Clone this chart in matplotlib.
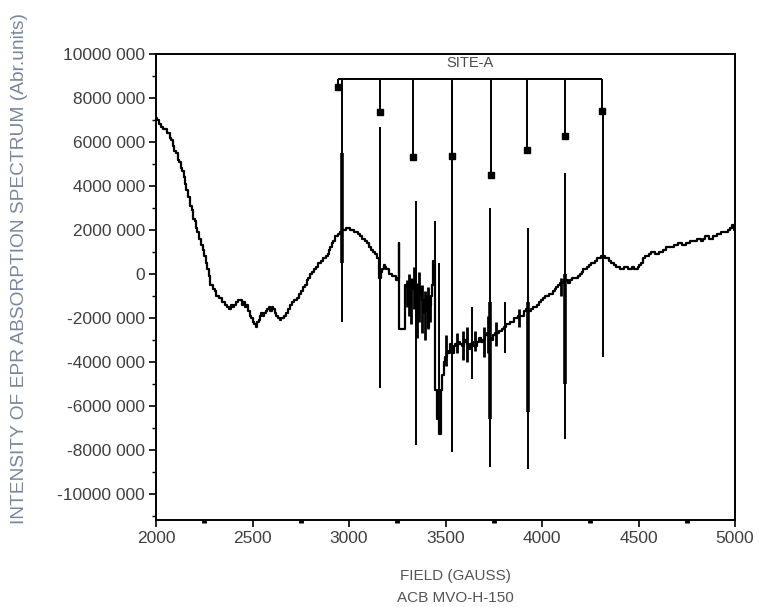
import matplotlib
matplotlib.use("Agg")
import matplotlib.pyplot as plt
from matplotlib.ticker import MultipleLocator

plt.rcParams['font.family'] = ['Liberation Sans', 'DejaVu Sans']

# ---- data (field in gauss, intensity in units of 1e6) ----
base_field = [2000, 2010, 2020, 2030, 2040, 2050, 2060, 2070, 2075, 2085, 2090, 2100, 2108, 2115,
              2125, 2130, 2140, 2145, 2155, 2160, 2170, 2180, 2188, 2195, 2205, 2210, 2220,
              2230, 2238, 2245, 2255, 2260, 2270, 2278, 2285, 2295, 2300, 2310, 2315, 2325,
              2330, 2340, 2345, 2355, 2365, 2375, 2385, 2393, 2400, 2410, 2420, 2430, 2440,
              2448, 2455, 2463, 2470, 2480, 2490, 2498, 2505, 2513, 2520, 2528, 2535, 2543,
              2550, 2558, 2565, 2573, 2580, 2588, 2595, 2603, 2610, 2618, 2625, 2635, 2645,
              2652, 2660, 2670, 2680, 2690, 2700, 2710, 2720, 2728, 2735, 2745, 2755, 2765,
              2775, 2785, 2795, 2805, 2815, 2825, 2835, 2848, 2860, 2872, 2885, 2893, 2900,
              2908, 2915, 2923, 2930, 2940, 2950, 2960, 2970, 2980, 2990, 3000, 3010, 3020,
              3030, 3040, 3050, 3060, 3070, 3080, 3090, 3100, 3110, 3120, 3130, 3140, 3150,
              3160, 3168, 3175, 3183, 3190, 3198, 3205, 3213, 3220, 3230, 3240, 3248, 3255,
              3258, 3262, 3268, 3290, 3293, 3300, 3308, 3315, 3323, 3330, 3338, 3345, 3353,
              3360, 3368, 3375, 3383, 3390, 3395, 3400, 3405, 3410, 3415, 3420, 3425, 3430,
              3440, 3448, 3460, 3470, 3480, 3488, 3495, 3503, 3510, 3518, 3525, 3533, 3540,
              3548, 3555, 3563, 3570, 3580, 3590, 3598, 3605, 3613, 3620, 3630, 3640, 3650,
              3660, 3670, 3680, 3690, 3700, 3710, 3720, 3730, 3740, 3750, 3760, 3770, 3780,
              3790, 3800, 3810, 3820, 3830, 3840, 3850, 3860, 3870, 3880, 3890, 3900, 3910,
              3920, 3930, 3940, 3950, 3960, 3970, 3980, 3990, 4000, 4010, 4020, 4030, 4040,
              4050, 4060, 4070, 4080, 4090, 4100, 4110, 4120, 4130, 4140, 4150, 4160, 4170,
              4180, 4190, 4200, 4210, 4220, 4230, 4240, 4250, 4260, 4270, 4280, 4290, 4300,
              4310, 4320, 4330, 4340, 4350, 4360, 4370, 4380, 4390, 4400, 4410, 4420, 4430,
              4440, 4450, 4460, 4470, 4480, 4490, 4500, 4510, 4520, 4530, 4540, 4550, 4560,
              4570, 4580, 4590, 4600, 4610, 4620, 4630, 4640, 4650, 4660, 4670, 4680, 4690,
              4700, 4710, 4720, 4730, 4740, 4750, 4760, 4770, 4780, 4790, 4800, 4810, 4820,
              4830, 4840, 4850, 4860, 4870, 4880, 4890, 4900, 4910, 4920, 4930, 4940, 4950,
              4960, 4970, 4980, 4990, 5000]
base_value = [7.1, 7.0, 6.8, 6.7, 6.6, 6.6, 6.4, 6.4, 6.2, 6.1, 5.8, 5.6, 5.5, 5.2,
              5.1, 4.8, 4.7, 4.4, 4.1, 3.8, 3.5, 3.1, 2.9, 2.5, 2.4, 2.1, 1.9,
              1.6, 1.3, 1.1, 0.8, 0.5, 0.2, -0.1, -0.5, -0.5, -0.7, -0.8, -1.0, -1.0,
              -1.1, -1.1, -1.3, -1.3, -1.4, -1.5, -1.6, -1.4, -1.5, -1.4, -1.3, -1.2, -1.2,
              -1.4, -1.3, -1.5, -1.4, -1.7, -1.9, -2.0, -2.2, -2.3, -2.4, -2.2, -2.1, -1.9,
              -1.8, -1.9, -1.8, -1.7, -1.6, -1.5, -1.7, -1.5, -1.6, -1.8, -1.9, -2.0, -2.1,
              -2.0, -2.0, -1.9, -1.8, -1.6, -1.4, -1.3, -1.2, -1.2, -1.1, -0.9, -0.8, -0.6,
              -0.5, -0.3, -0.2, 0.0, 0.1, 0.2, 0.3, 0.5, 0.6, 0.7, 0.8, 0.9, 1.1,
              1.2, 1.4, 1.5, 1.7, 1.7, 1.8, 1.9, 2.0, 2.0, 2.1, 2.1, 2.0, 2.0,
              1.9, 1.9, 1.8, 1.7, 1.6, 1.6, 1.5, 1.4, 1.2, 1.1, 1.0, 0.9, 0.7,
              -0.2, 0.1, 0.2, 0.4, 0.3, 0.2, 0.2, 0.0, 0.0, -0.1, -0.1, -0.3, -0.2,
              1.4, -2.5, -2.5, -2.5, -0.5, -0.6, -0.4, -0.9, -0.6, -0.3, -0.7, -0.8, -1.2,
              -1.3, -0.9, -0.6, -1.2, -1.8, -1.2, -1.0, -1.7, -2.4, -1.8, -1.4, -1.0, -0.5,
              0.6, -5.3, -6.6, -7.3, -5.3, -4.6, -4.0, -3.8, -3.5, -3.6, -3.2, -3.4, -3.6,
              -3.3, -3.2, -3.3, -3.1, -3.2, -3.3, -3.1, -3.0, -3.2, -3.4, -3.2, -3.1, -3.3,
              -3.3, -3.1, -2.9, -3.1, -3.0, -2.8, -2.7, -2.9, -3.0, -2.8, -2.7, -2.7, -2.6,
              -2.6, -2.5, -2.4, -2.3, -2.3, -2.2, -2.2, -2.0, -2.0, -1.9, -1.9, -1.9, -1.7,
              -1.6, -1.7, -1.7, -1.6, -1.5, -1.5, -1.4, -1.3, -1.2, -1.1, -1.0, -1.0, -0.9,
              -0.9, -0.8, -0.7, -0.6, -0.5, -0.4, -0.4, -0.3, -0.3, -0.4, -0.3, -0.2, -0.2,
              -0.2, -0.1, 0.0, 0.1, 0.2, 0.2, 0.3, 0.4, 0.5, 0.5, 0.6, 0.7, 0.7,
              0.8, 0.8, 0.7, 0.7, 0.6, 0.5, 0.5, 0.4, 0.3, 0.3, 0.2, 0.2, 0.3,
              0.3, 0.2, 0.2, 0.3, 0.2, 0.2, 0.3, 0.4, 0.5, 0.7, 0.8, 0.8, 0.9,
              1.0, 1.0, 0.9, 0.9, 1.0, 1.0, 1.1, 1.1, 1.2, 1.2, 1.2, 1.2, 1.3,
              1.3, 1.4, 1.4, 1.3, 1.3, 1.4, 1.4, 1.5, 1.5, 1.5, 1.5, 1.6, 1.6,
              1.5, 1.6, 1.7, 1.7, 1.6, 1.6, 1.7, 1.7, 1.8, 1.8, 1.9, 1.9, 1.9,
              1.9, 2.0, 2.1, 2.2, 2.0]

# sharp spectral lines: position, top, bottom
spike_field = [2962, 3162, 3347, 3445, 3466, 3535, 3637, 3732, 3808, 3930, 4119, 4316]
spike_top = [8.86, 6.7, 3.3, 2.4, 0.5, 8.6, -1.5, 3.0, -1.3, 2.1, 4.6, 7.4]
spike_bottom = [-2.2, -5.2, -7.8, -5.3, -6.9, -8.1, -4.8, -8.8, -3.6, -8.9, -7.5, -3.8]

# thicker central parts of the strongest lines
core_field = [2962, 3732, 3930, 4119]
core_top = [5.5, -1.3, -1.3, 0.0]
core_bottom = [0.5, -6.6, -6.3, -5.0]

# short unresolved lines filling the dense regions
blob_field = [3300, 3310, 3320, 3335, 3350, 3365, 3380, 3395, 3410, 3420,
              3505, 3560, 3590, 3610, 3655, 3700, 3720, 3760, 3880, 4100]
blob_top = [-0.3, 0.0, -0.2, 0.3, -0.4, 0.1, -0.5, -0.8, -0.6, -1.0,
            -2.8, -2.7, -2.6, -2.4, -2.6, -2.4, -1.9, -2.2, -1.6, -0.2]
blob_bottom = [-1.5, -1.9, -2.3, -1.6, -2.9, -2.2, -2.7, -3.0, -2.5, -2.2,
               -4.2, -3.6, -3.9, -4.0, -3.5, -3.8, -3.6, -3.3, -2.4, -1.0]

# SITE-A marker stick diagram
site_field = [2943, 3160, 3331, 3533, 3735, 3922, 4119, 4310]
site_value = [8.5, 7.36, 5.3, 5.36, 4.5, 5.64, 6.27, 7.4]
site_bar = 8.86
site_label = "SITE-A"

y_ticks = [10, 8, 6, 4, 2, 0, -2, -4, -6, -8, -10]
y_ticklabels = ["10000 000", "8000 000", "6000 000", "4000 000", "2000 000", "0",
                "-2000 000", "-4000 000", "-6000 000", "-8000 000", "-10000 000"]
x_ticks = [2000, 2500, 3000, 3500, 4000, 4500, 5000]
x_ticklabels = ["2000", "2500", "3000", "3500", "4000", "4500", "5000"]

# ---- figure ----
fig = plt.figure(figsize=(7.59, 6.07), dpi=100)
ax = fig.add_axes([156/759, 1-520/607, (735-156)/759, (520-54)/607])

ax.plot(base_field, base_value, color='black', lw=1.6, drawstyle='steps-mid')
ax.vlines(spike_field, spike_bottom, spike_top, color='black', lw=1.4)
ax.vlines(core_field, core_bottom, core_top, color='black', lw=2.6)
ax.vlines(blob_field, blob_bottom, blob_top, color='black', lw=2.0)

ax.hlines(site_bar, site_field[0], site_field[-1], color='black', lw=1.4)
ax.vlines(site_field, site_value, [site_bar]*len(site_field), color='black', lw=1.4)
ax.plot(site_field, site_value, 's', color='black', ms=4)
ax.text(3627, 9.6, site_label, ha='center', va='center',
        fontsize=10.5, color='#4a4a4a')

ax.set_xlim(2000, 5000)
ax.set_ylim(-11.2, 10)
ax.set_xticks(x_ticks)
ax.set_xticklabels(x_ticklabels)
ax.set_yticks(y_ticks)
ax.set_yticklabels(y_ticklabels)
ax.xaxis.set_minor_locator(MultipleLocator(250))
ax.yaxis.set_minor_locator(MultipleLocator(1))

ax.tick_params(axis='both', which='major', direction='out', length=5, width=1.2,
               labelcolor='#404040', pad=3)
ax.tick_params(axis='x', which='major', labelsize=12.5)
ax.tick_params(axis='y', which='major', labelsize=12.5)
ax.tick_params(axis='x', which='minor', direction='out', length=2, width=3.5)
ax.tick_params(axis='y', which='minor', direction='out', length=3, width=1.0)
for s in ax.spines.values():
    s.set_linewidth(1.4)

fig.text(455/759, 1-576/607, "FIELD (GAUSS)", ha='center', va='center', fontsize=11,
         color='#555555')
fig.text(455/759, 1-598/607, "ACB MVO-H-150", ha='center', va='center', fontsize=11,
         color='#555555')
fig.text(19/759, 1-524/607, "INTENSITY OF EPR ABSORPTION SPECTRUM (Abr.units)",
         rotation=90, rotation_mode='anchor', ha='left', va='center', fontsize=13.8,
         color='#7a8799')

fig.savefig("out.png", dpi=100)
